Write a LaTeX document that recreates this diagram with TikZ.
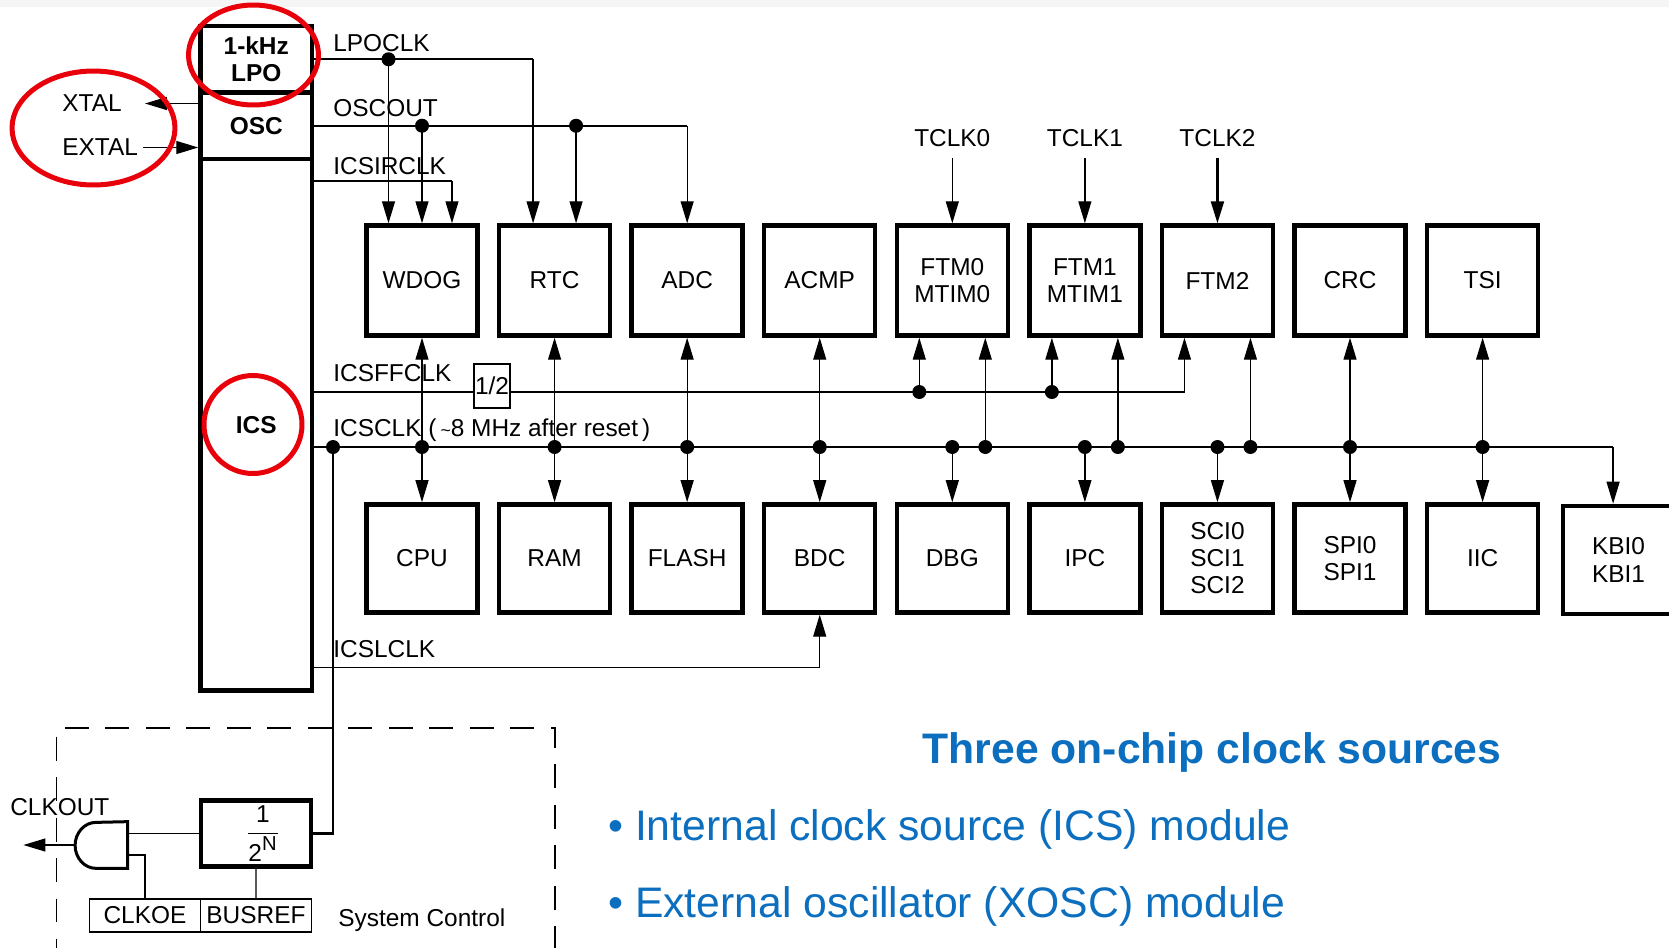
\documentclass[tikz,border=0pt]{standalone}
\usepackage{amsmath}
\usepackage{fontspec}
\setmainfont{Liberation Sans}
\usepackage{tikz}
\usetikzlibrary{arrows.meta,positioning,calc,shapes.geometric}
\definecolor{slideblue}{HTML}{0B6EBE}
\definecolor{ringred}{HTML}{E8000B}

\begin{document}
\begin{tikzpicture}[
    x=0.02cm, y=-0.02cm,
    box/.style={draw, line width=0.09cm, minimum width=2.22cm, minimum height=2.2cm, inner sep=0pt, align=center, font=\fontsize{13.9}{15.4}\selectfont},
    lowbox/.style={box, minimum height=2.16cm},
    column/.style={box, minimum width=2.23cm, font=\bfseries\fontsize{13.9}{15.4}\selectfont},
    thinbox/.style={draw, line width=0.025cm, minimum width=2.22cm, minimum height=0.66cm, inner sep=0pt, font=\fontsize{13.9}{15.4}\selectfont},
    sig/.style={inner sep=0pt, anchor=base west, font=\fontsize{13.9}{15.4}\selectfont},
    dot/.style={circle, fill=black, inner sep=0pt, minimum size=0.28cm},
    ring/.style={draw=ringred, ellipse, line width=0.1cm, inner sep=0pt},
    link/.style={line width=0.025cm},
    bus/.style={line width=0.045cm},
    arrow/.style={link, -{Triangle[length=0.44cm,width=0.26cm]}},
    twoway/.style={link, {Triangle[length=0.44cm,width=0.26cm]}-{Triangle[length=0.44cm,width=0.26cm]}}
]
\useasboundingbox (0,0) rectangle (1669,947);
\fill[black!4] (0,0) rectangle (1669,7);

% clock column
\node[column, minimum height=1.33cm] (lpo) at (256.25,59.25) {1-kHz\\LPO};
\node[column, minimum height=1.33cm, below=-0.09cm of lpo] (osc) {OSC};
\node[column, minimum height=10.63cm, below=-0.09cm of osc] (ics) {ICS};

% top row
\node[box] (wdog) at (422,280.5) {WDOG};
\node[box, right=0.342cm of wdog] (rtc) {RTC};
\node[box, right=0.342cm of rtc] (adc) {ADC};
\node[box, right=0.342cm of adc] (acmp) {ACMP};
\node[box, right=0.342cm of acmp] (ftm0) {FTM0\\MTIM0};
\node[box, right=0.342cm of ftm0] (ftm1) {FTM1\\MTIM1};
\node[box, right=0.342cm of ftm1] (ftm2) {FTM2};
\node[box, right=0.342cm of ftm2] (crc) {CRC};
\node[box, right=0.342cm of crc] (tsi) {TSI};

% bottom row
\node[lowbox, below=3.29cm of wdog] (cpu) {CPU};
\node[lowbox, right=0.342cm of cpu] (ram) {RAM};
\node[lowbox, right=0.342cm of ram] (flash) {FLASH};
\node[lowbox, right=0.342cm of flash] (bdc) {BDC};
\node[lowbox, right=0.342cm of bdc] (dbg) {DBG};
\node[lowbox, right=0.342cm of dbg] (ipc) {IPC};
\node[lowbox, right=0.342cm of ipc] (sci) {SCI0\\SCI1\\SCI2};
\node[lowbox, right=0.342cm of sci] (spi) {SPI0\\SPI1};
\node[lowbox, right=0.342cm of spi] (iic) {IIC};
\node[lowbox, right=0.41cm of iic, yshift=-0.03cm] (kbi) {KBI0\\KBI1};

% taps on the boxes
\coordinate (wdoga) at ([xshift=-0.67cm]wdog.north);
\coordinate (wdogc) at ([xshift=0.6cm]wdog.north);
\coordinate (rtca) at ([xshift=-0.43cm]rtc.north);
\coordinate (rtcb) at ([xshift=0.43cm]rtc.north);
\coordinate (ftm0a) at ([xshift=-0.66cm]ftm0.south);
\coordinate (ftm0b) at ([xshift=0.66cm]ftm0.south);
\coordinate (ftm1a) at ([xshift=-0.66cm]ftm1.south);
\coordinate (ftm1b) at ([xshift=0.66cm]ftm1.south);
\coordinate (ftm2a) at ([xshift=-0.66cm]ftm2.south);
\coordinate (ftm2b) at ([xshift=0.66cm]ftm2.south);
\coordinate (kbia) at ([xshift=-0.11cm]kbi.north);
\coordinate (ircout) at (ics.east |- 0,181);
\coordinate (ffout) at (ics.east |- 0,392);
\coordinate (clkout) at (ics.east |- 0,447);
\coordinate (lclkout) at (ics.east |- 0,667.5);

% signal names
\node[sig] (lpoclk) at (333,51.7) {LPOCLK};
\node[sig] (oscout) at (333,116.7) {OSCOUT};
\node[sig] (icsirclk) at (333,174) {ICSIRCLK};
\node[sig] (icsffclk) at (333,381.7) {ICSFFCLK};
\node[sig] (icsclk) at (333,436.7) {ICSCLK (\,{\fontsize{10}{10}\selectfont\textasciitilde}8 MHz after reset\,)};
\node[sig] (icslclk) at (333,657.3) {ICSLCLK};
\node[sig, anchor=base] (tclk0) at (ftm0.north |- 0,146.5) {TCLK0};
\node[sig, anchor=base] (tclk1) at (ftm1.north |- 0,146.5) {TCLK1};
\node[sig, anchor=base] (tclk2) at (ftm2.north |- 0,146.5) {TCLK2};
\node[sig, anchor=west] (xtal) at (62,103.5) {XTAL};
\node[sig, anchor=west] (extal) at (62,147.5) {EXTAL};
\node[thinbox, minimum width=0.72cm, minimum height=0.88cm] (half) at (492,386) {1/2};

% junctions
\node[dot] (dlpo) at (wdoga |- lpo.east) {};
\node[dot] (dosca) at (wdog.north |- osc.east) {};
\node[dot] (doscb) at (rtcb |- osc.east) {};
\node[dot] (dfa) at (ftm0a |- ffout) {};
\node[dot] (dfb) at (ftm1a |- ffout) {};
\node[dot] (dclk) at (333,447) {};
\node[dot] (dwdog) at (wdog.south |- clkout) {};
\node[dot] (drtc) at (rtc.south |- clkout) {};
\node[dot] (dadc) at (adc.south |- clkout) {};
\node[dot] (dacmp) at (acmp.south |- clkout) {};
\node[dot] (ddbg) at (dbg.north |- clkout) {};
\node[dot] (dftm0) at (ftm0b |- clkout) {};
\node[dot] (dipc) at (ipc.north |- clkout) {};
\node[dot] (dftm1) at (ftm1b |- clkout) {};
\node[dot] (dsci) at (sci.north |- clkout) {};
\node[dot] (dftm2) at (ftm2b |- clkout) {};
\node[dot] (dcrc) at (crc.south |- clkout) {};
\node[dot] (dtsi) at (tsi.south |- clkout) {};

% upper clocks
\draw[bus] (lpo.east) -- (rtca |- lpo.east);
\draw[arrow] (dlpo.center) -- (wdoga);
\draw[arrow] (rtca |- lpo.east) -- (rtca);
\draw[bus] (osc.east) -- (adc.north |- osc.east);
\draw[arrow] (dosca.center) -- (wdog.north);
\draw[arrow] (doscb.center) -- (rtcb);
\draw[arrow] (adc.north |- osc.east) -- (adc.north);
\draw[link] (ircout) -- (wdogc |- ircout);
\draw[arrow] (wdogc |- ircout) -- (wdogc);
\draw[arrow] (osc.west |- xtal.east) -- ([xshift=0.46cm]xtal.east);
\draw[arrow] ([xshift=0.1cm]extal.east) -- (extal.east -| osc.west);
\draw[arrow] ([yshift=-0.22cm]tclk0.south) -- (ftm0.north);
\draw[arrow] ([yshift=-0.22cm]tclk1.south) -- (ftm1.north);
\draw[arrow, bus] ([yshift=-0.22cm]tclk2.south) -- (ftm2.north);

% fixed frequency clock
\draw[link] (ffout) -- (half.west |- ffout);
\draw[arrow] (half.east |- ffout) -| (ftm2a);
\draw[arrow] (dfa.center) -- (ftm0a);
\draw[arrow] (dfb.center) -- (ftm1a);

% bus clock
\draw[bus] (clkout) -- (kbia |- clkout);
\draw[twoway] (wdog.south) -- (cpu.north);
\draw[twoway] (rtc.south) -- (ram.north);
\draw[twoway] (adc.south) -- (flash.north);
\draw[twoway] (acmp.south) -- (bdc.north);
\draw[twoway] (crc.south) -- (spi.north);
\draw[twoway] (tsi.south) -- (iic.north);
\draw[arrow] (dftm0.center) -- (ftm0b);
\draw[arrow] (dftm1.center) -- (ftm1b);
\draw[arrow] (dftm2.center) -- (ftm2b);
\draw[arrow] (ddbg.center) -- (dbg.north);
\draw[arrow] (dipc.center) -- (ipc.north);
\draw[arrow] (dsci.center) -- (sci.north);
\draw[arrow] (kbia |- clkout) -- (kbia);
\draw[arrow] (lclkout) -| (bdc.south);

% system control
\node[draw, dash pattern=on 0.48cm off 0.33cm, line width=0.025cm, minimum width=9.97cm, minimum height=5cm, inner sep=0pt] (sysctl) at (305.8,853) {};
\node[box, minimum width=2.2cm, minimum height=1.32cm] (div) at (256,833.5) {\hspace{0.28cm}$\dfrac{\text{1}}{\text{2}^{\text{\fontsize{11.5}{12}\selectfont N}}}$};
\node[inner sep=0pt, minimum width=1.05cm, minimum height=0.92cm] (gate) at (101,845) {};
\node[thinbox] (clkoe) at (145,915.5) {CLKOE};
\node[thinbox, right=-0.025cm of clkoe] (busref) {BUSREF};
\node[sig] (clkoutname) at (10,815) {CLKOUT};
\node[sig] (sysname) at (338,926.7) {System Control};
\draw[line width=0.06cm] (gate.north east) -- (gate.south east) -- ([xshift=-0.63cm]gate.south east) arc[start angle=270, end angle=90, x radius=0.42cm, y radius=0.46cm] -- cycle;
\draw[bus] (div.east) -- (dclk |- div.east) -- (dclk.center);
\draw[link] (div.west) -- (gate.east |- div.west);
\draw[link] ([yshift=-0.2cm]gate.east) -| (clkoe.north);
\draw[link] (div.south) -- (busref.north);
\draw[arrow] (gate.west) -- ([xshift=-1.02cm]gate.west);

% rings
\node[ring, minimum width=2.6cm, minimum height=2cm] (ringlpo) at (253.5,55) {};
\node[ring, minimum width=3.26cm, minimum height=2.28cm] (ringxtal) at (93.5,128) {};
\node[ring, minimum width=1.96cm, minimum height=1.96cm] (ringics) at (253,424.5) {};

% slide text
\node[text=slideblue, font=\bfseries\fontsize{24.3}{28}\selectfont] (title) at (1212,752.5) {Three on-chip clock sources};
\node[text=slideblue, anchor=west, inner sep=0pt, font=\fontsize{24.3}{28}\selectfont] (itemics) at (608,829) {• Internal clock source (ICS) module};
\node[text=slideblue, anchor=west, inner sep=0pt, font=\fontsize{24.3}{28}\selectfont] (itemxosc) at (608,906) {• External oscillator (XOSC) module};
\end{tikzpicture}
\end{document}
